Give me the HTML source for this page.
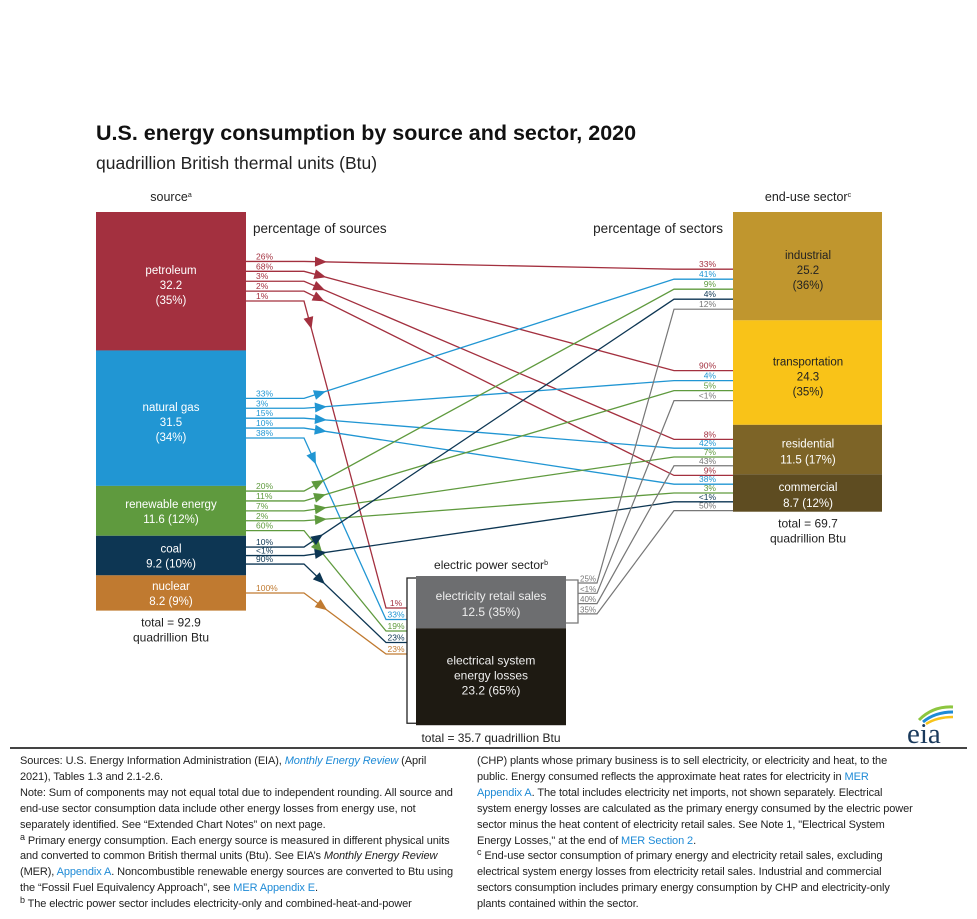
<!DOCTYPE html>
<html><head><meta charset="utf-8">
<style>
html,body{margin:0;padding:0;background:#fff;}
body{width:977px;height:919px;overflow:hidden;position:relative;font-family:"Liberation Sans",Arial,sans-serif;}
#chart text{font-family:"Liberation Sans",Arial,sans-serif;}
.fn{position:absolute;top:754px;width:436px;font-size:11px;line-height:15.9px;color:#222;letter-spacing:-0.1px;}
.fn a{color:#1e8ad6;text-decoration:none;}
sup{font-size:9px;vertical-align:top;line-height:0;position:relative;top:3px;}
</style></head><body>
<svg id="chart" width="977" height="750" style="position:absolute;left:0;top:0">
<text x="96" y="140" font-size="21.5" font-weight="bold" fill="#111">U.S. energy consumption by source and sector, 2020</text>
<text x="96" y="169" font-size="17.5" fill="#222">quadrillion British thermal units (Btu)</text>
<text x="171" y="201" font-size="12.5" text-anchor="middle" fill="#222">source<tspan font-size="7" dy="-4">a</tspan></text>
<text x="808" y="201" font-size="12.5" text-anchor="middle" fill="#222">end-use sector<tspan font-size="7" dy="-4">c</tspan></text>
<text x="253" y="233" font-size="13.5" fill="#222">percentage of sources</text>
<text x="723" y="233" font-size="13.5" text-anchor="end" fill="#222">percentage of sectors</text>
<g id="flows"></g><g id="bars"></g>
</svg>
<svg width="70" height="50" style="position:absolute;left:895px;top:698px">
<path d="M24 22 Q38 8 58 9" stroke="#8dc63f" stroke-width="3" fill="none"/>
<path d="M28 24 Q40 14 58 14" stroke="#1e8ad6" stroke-width="3" fill="none"/>
<path d="M31 26 Q42 19 58 19" stroke="#f7c31a" stroke-width="2.5" fill="none"/>
<text x="12" y="45" style="font-family:'Liberation Serif',serif" font-size="29" fill="#1a3a5c">eia</text>
</svg>
<div style="position:absolute;left:10px;top:747px;width:957px;height:2px;background:#444"></div>
<div class="fn" style="left:20px">Sources: U.S. Energy Information Administration (EIA), <a><i>Monthly Energy Review</i></a> (April 2021), Tables 1.3 and 2.1-2.6.<br>Note: Sum of components may not equal total due to independent rounding. All source and end-use sector consumption data include other energy losses from energy use, not separately identified. See “Extended Chart Notes” on next page.<br><sup>a</sup> Primary energy consumption. Each energy source is measured in different physical units and converted to common British thermal units (Btu). See EIA’s <i>Monthly Energy Review</i> (MER), <a>Appendix A</a>. Noncombustible renewable energy sources are converted to Btu using the “Fossil Fuel Equivalency Approach”, see <a>MER Appendix E</a>.<br><sup>b</sup> The electric power sector includes electricity-only and combined-heat-and-power</div>
<div class="fn" style="left:477px">(CHP) plants whose primary business is to sell electricity, or electricity and heat, to the public. Energy consumed reflects the approximate heat rates for electricity in <a>MER Appendix A</a>. The total includes electricity net imports, not shown separately. Electrical system energy losses are calculated as the primary energy consumed by the electric power sector minus the heat content of electricity retail sales. See Note 1, "Electrical System Energy Losses," at the end of <a>MER Section 2</a>.<br><sup>c</sup> End-use sector consumption of primary energy and electricity retail sales, excluding electrical system energy losses from electricity retail sales. Industrial and commercial sectors consumption includes primary energy consumption by CHP and electricity-only plants contained within the sector.</div>
<script>
const sources=["petroleum","natural gas","renewable energy","coal","nuclear"];
const sourceValues=[32.2,31.5,11.6,9.2,8.2];
const sourcePct=["35%","34%","12%","10%","9%"];
const sourceTotal=92.9;
const sectors=["industrial","transportation","residential","commercial"];
const sectorValues=[25.2,24.3,11.5,8.7];
const sectorPct=["36%","35%","17%","12%"];
const sectorTotal=69.7;
const electricParts=["electricity retail sales","electrical system energy losses"];
const electricValues=[12.5,23.2];
const electricPct=["35%","65%"];
const electricTotal=35.7;
// flows: source index, target (0-3 sector, 4 electric), source % label, target % label
const flowSource=[0,0,0,0,0, 1,1,1,1,1, 2,2,2,2,2, 3,3,3, 4];
const flowTarget=[0,1,2,3,4, 0,1,2,3,4, 0,1,2,3,4, 0,3,4, 4];
const flowSrcLabel=["26%","68%","3%","2%","1%","33%","3%","15%","10%","38%","20%","11%","7%","2%","60%","10%","<1%","90%","100%"];
const flowDstLabel=["33%","90%","8%","9%","1%","41%","4%","42%","38%","33%","9%","5%","7%","3%","19%","4%","<1%","23%","23%"];
const retailTargets=[0,1,2,3];
const retailSrcLabel=["25%","<1%","40%","35%"];
const retailDstLabel=["12%","<1%","43%","50%"];

const NS="http://www.w3.org/2000/svg";
const srcColors=["#a3303f","#2196d3","#5f9a3e","#0d3653","#c07a30"];
const secColors=["#c0962e","#f9c318","#7d6427","#5e4c21"];
const elecColors=["#6d6e70","#1e1a12"];
const K=4.3, EK=4.18, TOP=212, ETOP=576;
const bars=document.getElementById('bars'), flowsG=document.getElementById('flows');
function mk(tag,attrs,parent){const e=document.createElementNS(NS,tag);for(const k in attrs)e.setAttribute(k,attrs[k]);(parent||bars).appendChild(e);return e;}
function txt(x,y,s,size,fill,anchor,parent){const t=mk('text',{x:x,y:y,'font-size':size,fill:fill,'text-anchor':anchor||'middle'},parent);t.textContent=s;return t;}
function yScale(vals,i,top,k){let y=top;for(let j=0;j<i;j++)y+=vals[j]*(k||K);return y;}
const srcTop=[],srcH=[];
sources.forEach((s,i)=>{const y=yScale(sourceValues,i,TOP),h=sourceValues[i]*K;srcTop.push(y);srcH.push(h);
 const r=mk('rect',{x:96,y:y,width:150,height:h,fill:srcColors[i]});
 
 
 const cy=y+h/2;
 if(h<60){txt(171,cy-3,s,11.5,'#fff');txt(171,cy+12,sourceValues[i]+' ('+sourcePct[i]+')',11.5,'#fff');}
 else{txt(171,cy-7,s,11.5,'#fff');txt(171,cy+8,String(sourceValues[i]),11.5,'#fff');txt(171,cy+23,'('+sourcePct[i]+')',11.5,'#fff');}
});
const srcEnd=yScale(sourceValues,5,TOP);
txt(171,srcEnd+16,'total = '+sourceTotal.toFixed(1),12,'#222');
txt(171,srcEnd+31,'quadrillion Btu',12,'#222');
const secTop=[],secH=[];
sectors.forEach((s,i)=>{const y=yScale(sectorValues,i,TOP),h=sectorValues[i]*K;secTop.push(y);secH.push(h);
 const r=mk('rect',{x:733,y:y,width:149,height:h,fill:secColors[i]});
 
 
 const cy=y+h/2,tc=i<2?'#222':'#fff';
 if(h<60){txt(808,cy-2,s,11.5,tc);txt(808,cy+14,sectorValues[i]+' ('+sectorPct[i]+')',11.5,tc);}
 else{txt(808,cy-7,s,11.5,tc);txt(808,cy+8,String(sectorValues[i]),11.5,tc);txt(808,cy+23,'('+sectorPct[i]+')',11.5,tc);}
});
const secEnd=yScale(sectorValues,4,TOP);
txt(808,secEnd+16,'total = '+sectorTotal.toFixed(1),12,'#222');
txt(808,secEnd+31,'quadrillion Btu',12,'#222');
electricParts.forEach((s,i)=>{const y=yScale(electricValues,i,ETOP,EK),h=electricValues[i]*EK;
 const r=mk('rect',{x:416,y:y,width:150,height:h,fill:elecColors[i]});
 
 
 const cy=y+h/2;
 if(i==0){txt(491,cy-2,s,12,'#eee');txt(491,cy+14,electricValues[i]+' ('+electricPct[i]+')',12,'#eee');}
 else{txt(491,cy-12,'electrical system',12,'#eee');txt(491,cy+3,'energy losses',12,'#eee');txt(491,cy+18,electricValues[i]+' ('+electricPct[i]+')',12,'#eee');}
});
const eEnd=yScale(electricValues,2,ETOP,EK);
txt(491,ETOP-7,'electric power sector',12,'#222').innerHTML='electric power sector<tspan font-size="7" dy="-4">b</tspan>';
txt(491,eEnd+17,'total = '+electricTotal.toFixed(1)+' quadrillion Btu',12,'#222');
mk('polyline',{points:`416,${ETOP+2} 407,${ETOP+2} 407,${eEnd-2} 416,${eEnd-2}`,fill:'none',stroke:'#222','stroke-width':1.3});
mk('polyline',{points:`566,${ETOP+4} 578,${ETOP+4} 578,${ETOP+47} 566,${ETOP+47}`,fill:'none',stroke:'#777','stroke-width':1.3});
const srcCount=sources.map((_,i)=>flowSource.filter(s=>s==i).length);
const srcIdx=sources.map(()=>0);
const secShift=[23,13,3,0];
const secSpace=[10,10,8.8,8.8];
const secCount=sectors.map((_,i)=>flowTarget.filter(t=>t==i).length+1);
const secIdx=sectors.map(()=>0);
function secY(t){const n=secCount[t],c=secTop[t]+secH[t]/2+secShift[t];const y=c+(secIdx[t]-(n-1)/2)*secSpace[t];secIdx[t]++;return y;}
let eIdx=0;
function arrow(x1,y1,x2,y2,d,col){const L=Math.hypot(x2-x1,y2-y1),ux=(x2-x1)/L,uy=(y2-y1)/L;const px=x1+ux*d,py=y1+uy*d;
 const a=mk('polygon',{points:`${px+ux*7},${py+uy*7} ${px-ux*5-uy*5},${py-uy*5+ux*5} ${px-ux*5+uy*5},${py-uy*5-ux*5}`,fill:col},flowsG);
 
 }
flowSource.forEach((s,k)=>{const t=flowTarget[k],col=srcColors[s];
 const n=srcCount[s],yl=srcTop[s]+srcH[s]/2+(srcIdx[s]-(n-1)/2)*(s==3?8.5:9.9);srcIdx[s]++;
 let pts,x2,y2;
 if(t<4){y2=secY(t);x2=674;pts=`246,${yl} 304,${yl} 674,${y2} 733,${y2}`;
  txt(716,y2-2,flowDstLabel[k],8.5,col,'end',flowsG);}
 else{y2=ETOP+32+eIdx*11.5;eIdx++;x2=386;pts=`246,${yl} 304,${yl} 386,${y2} 407,${y2}`;
  txt(396,y2-2,flowDstLabel[k],8.5,col,'middle',flowsG);}
 const p=mk('polyline',{points:pts,fill:'none',stroke:col,'stroke-width':1.3},flowsG);
 
 
 txt(256,yl-2,flowSrcLabel[k],8.5,col,'start',flowsG);
 arrow(304,yl,x2,y2,t<4?16:22,col);
});
retailTargets.forEach((t,k)=>{const yl=ETOP+7+k*10.3,y2=secY(t);
 const p=mk('polyline',{points:`578,${yl} 597,${yl} 674,${y2} 733,${y2}`,fill:'none',stroke:'#777','stroke-width':1.2},flowsG);
 
 
 txt(580,yl-1.5,retailSrcLabel[k],8,'#777','start',flowsG);
 txt(716,y2-2,retailDstLabel[k],8.5,'#777','end',flowsG);
});
</script>
</body></html>
